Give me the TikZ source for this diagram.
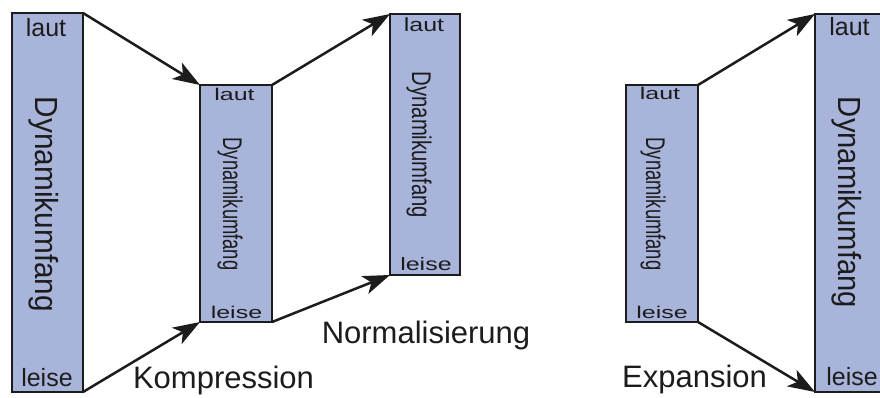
\documentclass[tikz,border=0pt]{standalone}
\usepackage{fontspec}
\setmainfont{Liberation Sans}
\usepackage{graphicx}
\usetikzlibrary{arrows.meta}
\definecolor{boxfill}{RGB}{169,180,219}
\definecolor{ink}{RGB}{28,28,28}
\begin{document}
\begin{tikzpicture}[x=1pt,y=-1pt,
  box/.style={draw=ink, fill=boxfill, line width=2.6pt, inner sep=0pt, outer sep=0pt},
  arr/.style={draw=ink, line width=2.5pt, -{Stealth[length=27pt,width=19pt,inset=7pt]}},
  lbl/.style={inner sep=0pt, text=ink, font=\fontsize{25}{30}\selectfont, anchor=base},
  dynbig/.style={inner sep=0pt, text=ink, font=\fontsize{32}{38}\selectfont, rotate=-90, anchor=base},
  dynsmall/.style={inner sep=0pt, text=ink, font=\fontsize{27}{32}\selectfont, rotate=-90, anchor=base},
  capt/.style={inner sep=0pt, text=ink, font=\fontsize{31}{37}\selectfont, anchor=base}]
\useasboundingbox (0,0) rectangle (880,398);
% boxes
\node[box, minimum width=71pt, minimum height=379pt] (b1) at (47.5,202.5) {};
\node[box, minimum width=72pt, minimum height=237pt] (b2) at (236,203.5) {};
\node[box, minimum width=70pt, minimum height=261pt] (b3) at (425,144.5) {};
\node[box, minimum width=72pt, minimum height=237pt] (b4) at (662,203.5) {};
\node[box, minimum width=70pt, minimum height=378pt] (b5) at (850,203) {};
% texts in boxes
\node[dynbig] (d1) at (35,204.5) {\scalebox{0.93}[1]{Dynamikumfang}};
\node[lbl] (h1) at (46,37) {laut};
\node[lbl] (l1) at (47,386) {leise};
\node[dynsmall] (d2) at (223,204) {\scalebox{0.68}[1]{Dynamikumfang}};
\node[lbl] (h2) at (234.5,101) {\scalebox{1}[0.68]{laut}};
\node[lbl] (l2) at (236.5,318) {\scalebox{1}[0.68]{leise}};
\node[dynsmall] (d3) at (412,145) {\scalebox{0.75}[1]{Dynamikumfang}};
\node[lbl] (h3) at (424,32) {\scalebox{1}[0.76]{laut}};
\node[lbl] (l3) at (426,270) {\scalebox{1}[0.72]{leise}};
\node[dynsmall] (d4) at (646,204) {\scalebox{0.68}[1]{Dynamikumfang}};
\node[lbl] (h4) at (660,100) {\scalebox{1}[0.68]{laut}};
\node[lbl] (l4) at (662,318) {\scalebox{1}[0.68]{leise}};
\node[dynbig] (d5) at (838,202.5) {\scalebox{0.913}[1]{Dynamikumfang}};
\node[lbl] (h5) at (849.5,36) {laut};
\node[lbl] (l5) at (852,385) {leise};
% captions
\node[capt] (kom) at (223.5,388) {Kompression};
\node[capt] (nor) at (426,343) {Normalisierung};
\node[capt] (exp) at (694.5,387) {Expansion};
% arrows
\draw[arr] (b1.north east) -- (b2.north west);
\draw[arr] (b1.south east) -- (b2.south west);
\draw[arr] (b2.north east) -- (b3.north west);
\draw[arr] (b2.south east) -- (b3.south west);
\draw[arr] (b4.north east) -- (b5.north west);
\draw[arr] (b4.south east) -- (b5.south west);
\end{tikzpicture}
\end{document}
